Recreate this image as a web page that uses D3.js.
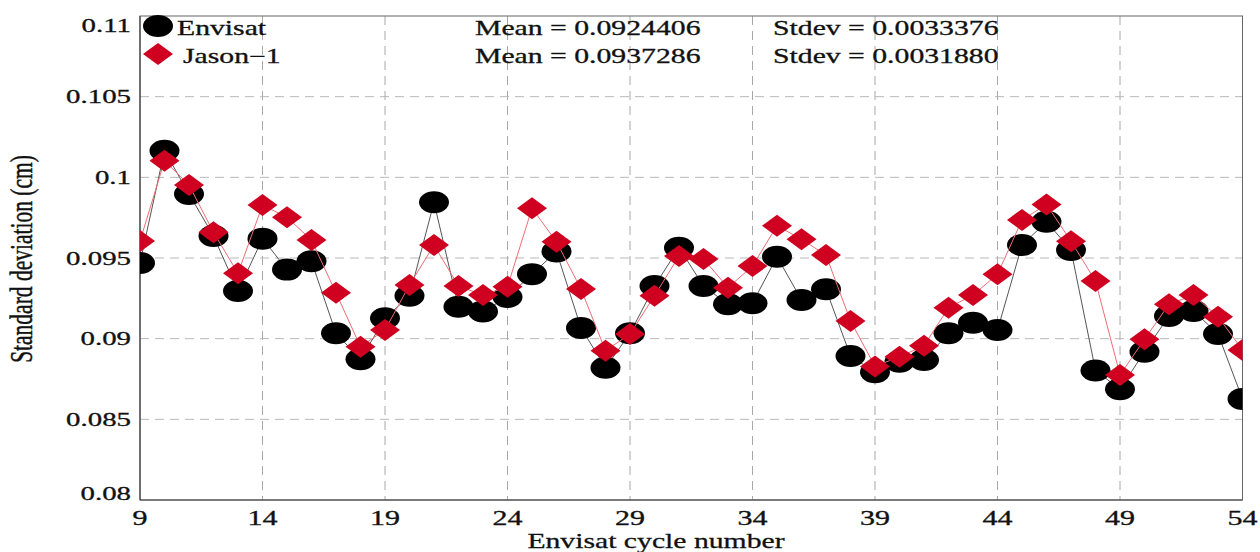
<!DOCTYPE html>
<html>
<head>
<meta charset="utf-8">
<script src="https://cdn.jsdelivr.net/npm/d3@7"></script>
<style>
  html, body { margin: 0; padding: 0; background: #fff; }
  svg { display: block; }
  text { font-family: "Liberation Serif", "Times New Roman", serif; fill: #111; stroke: #111; stroke-width: 0.3; }
</style>
</head>
<body>
<svg id="chart" width="1260" height="552"></svg>
<script>
// ---- data ----
const cycles = [9,10,11,12,13,14,15,16,17,18,19,20,21,22,23,24,25,26,27,28,29,30,31,32,33,34,35,36,37,38,39,40,41,42,43,44,45,46,47,48,49,50,51,52,53,54];
const envisat = [0.09469,0.10165,0.09897,0.09636,0.09295,0.09620,0.09428,0.09480,0.09033,0.08872,0.09126,0.09266,0.09845,0.09198,0.09168,0.09258,0.09400,0.09540,0.09066,0.08820,0.09033,0.09326,0.09564,0.09326,0.09213,0.09220,0.09508,0.09240,0.09306,0.08893,0.08792,0.08857,0.08868,0.09033,0.09099,0.09054,0.09580,0.09725,0.09549,0.08803,0.08686,0.08919,0.09141,0.09172,0.09029,0.08626];
const jason1 = [0.09605,0.10103,0.09952,0.09659,0.09405,0.09828,0.09752,0.09611,0.09284,0.08950,0.09054,0.09333,0.09580,0.09326,0.09270,0.09322,0.09808,0.09600,0.09308,0.08925,0.09029,0.09266,0.09512,0.09494,0.09316,0.09450,0.09700,0.09616,0.09518,0.09110,0.08828,0.08888,0.08956,0.09192,0.09270,0.09399,0.09736,0.09832,0.09604,0.09357,0.08775,0.08996,0.09213,0.09270,0.09136,0.08930];
const xTicks = [9,14,19,24,29,34,39,44,49,54];
const yTicks = [0.08,0.085,0.09,0.095,0.1,0.105,0.11];
const yTickLabels = ["0.08","0.085","0.09","0.095","0.1","0.105","0.11"];
const seriesNames = ["Envisat","Jason\u22121"];
const meanLabels = ["Mean = 0.0924406","Mean = 0.0937286"];
const stdevLabels = ["Stdev = 0.0033376","Stdev = 0.0031880"];
const xTitle = "Envisat cycle number";
const yTitle = "Standard deviation (cm)";

// ---- layout ----
const SX = 1.45; // horizontal glyph stretch of the reference
const L = 140, R = 1242.5, T = 16, B = 500;
const svg = d3.select("#chart");
const x = d3.scaleLinear().domain([9,54]).range([L,R]);
const y = d3.scaleLinear().domain([0.08,0.11]).range([B,T]);

const red = "#cf0020";

// grid
const grid = svg.append("g");
grid.selectAll("line.v").data(xTicks.slice(1,-1)).join("line")
  .attr("x1", d => x(d)).attr("x2", d => x(d)).attr("y1", T).attr("y2", B)
  .attr("stroke", "#a8a8a8").attr("stroke-width", 1).attr("stroke-dasharray", "9,6");
grid.selectAll("line.h").data(yTicks.slice(1,-1)).join("line")
  .attr("y1", d => y(d)).attr("y2", d => y(d)).attr("x1", L).attr("x2", R)
  .attr("stroke", "#b8b8b8").attr("stroke-width", 1).attr("stroke-dasharray", "9,6");

// frame
svg.append("rect").attr("x", L).attr("y", T).attr("width", R-L).attr("height", B-T)
  .attr("fill", "none").attr("stroke", "#666").attr("stroke-width", 1);
svg.append("line").attr("x1", L).attr("x2", L).attr("y1", T).attr("y2", B).attr("stroke", "#444").attr("stroke-width", 1.2);
svg.append("line").attr("x1", L).attr("x2", R).attr("y1", B).attr("y2", B).attr("stroke", "#444").attr("stroke-width", 1.2);

// clip
svg.append("clipPath").attr("id", "plotclip").append("rect")
  .attr("x", L).attr("y", T).attr("width", R-L).attr("height", B-T);
const plot = svg.append("g").attr("clip-path", "url(#plotclip)");

const ptsE = cycles.map((c,i) => [c, envisat[i]]);
const ptsJ = cycles.map((c,i) => [c, jason1[i]]);
const line = d3.line().x(d => x(d[0])).y(d => y(d[1]));

const RX = 15, RY = 11;
const diamond = (cx, cy) => `M${cx},${cy-RY}L${cx+RX},${cy}L${cx},${cy+RY}L${cx-RX},${cy}Z`;

plot.append("path").datum(ptsE).attr("d", line).attr("fill", "none").attr("stroke", "#555").attr("stroke-width", 1);
plot.selectAll("ellipse.e").data(ptsE).join("ellipse")
  .attr("cx", d => x(d[0])).attr("cy", d => y(d[1])).attr("rx", RX).attr("ry", RY).attr("fill", "#000");
plot.append("path").datum(ptsJ).attr("d", line).attr("fill", "none").attr("stroke", "#ec6c74").attr("stroke-width", 1);
plot.selectAll("path.j").data(ptsJ).join("path")
  .attr("d", d => diamond(x(d[0]), y(d[1]))).attr("fill", red);

// text helper
function stext(g, tx, ty, str, size, anchor, sx) {
  return g.append("text").attr("transform", `translate(${tx},${ty}) scale(${sx || SX},1)`)
    .attr("text-anchor", anchor || "start").attr("font-size", size).text(str);
}

// x tick labels
const xAxisG = svg.append("g");
xTicks.forEach(t => stext(xAxisG, x(t), 525, String(t), 20, "middle", 1.5));
// y tick labels
const yAxisG = svg.append("g");
yTicks.forEach((t,i) => {
  let off = 6.5;
  if (i === 0) off = 0;
  if (i === yTicks.length - 1) off = 16;
  stext(yAxisG, 131, y(t) + off, yTickLabels[i], 19.5, "end", 1.48);
});

// axis titles
stext(svg, 656, 548, xTitle, 22, "middle", 1.35);
svg.append("text").attr("transform", `translate(32,259) scale(${SX},1) rotate(-90)`)
  .attr("text-anchor", "middle").attr("font-size", 21.5).text(yTitle);

// legend
const lg = svg.append("g");
lg.append("ellipse").attr("cx", 158).attr("cy", 26).attr("rx", RX).attr("ry", RY).attr("fill", "#000");
lg.append("path").attr("d", diamond(158, 54)).attr("fill", red);
stext(lg, 177, 35, seriesNames[0], 20.5, "start");
stext(lg, 183, 63, seriesNames[1], 20.5, "start");
stext(lg, 475, 35, meanLabels[0], 20.5, "start");
stext(lg, 475, 63, meanLabels[1], 20.5, "start");
stext(lg, 773, 35, stdevLabels[0], 20.5, "start");
stext(lg, 773, 63, stdevLabels[1], 20.5, "start");
</script>
</body>
</html>
